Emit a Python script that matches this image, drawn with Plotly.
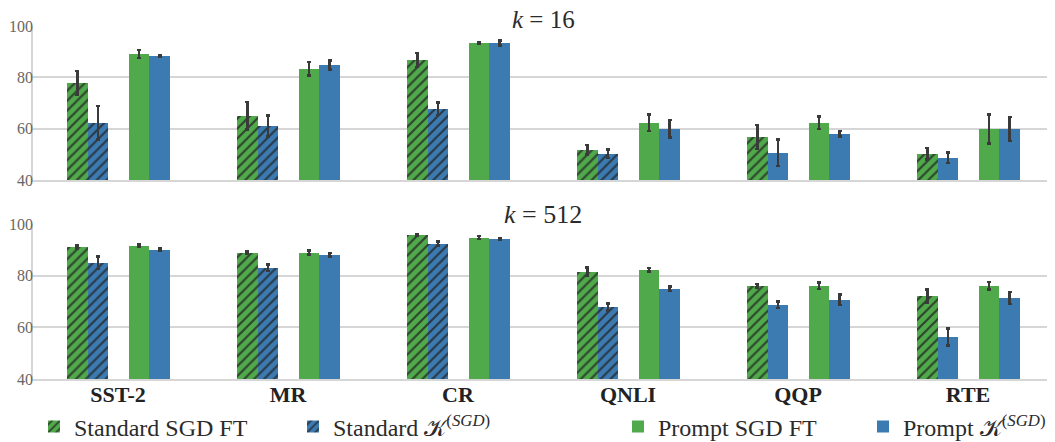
import plotly.graph_objects as go

categories = ["SST-2", "MR", "CR", "QNLI", "QQP", "RTE"]

# k = 16
std_sgd_16 = [77.8, 65.0, 86.8, 51.8, 56.8, 50.2]
std_sgd_16_err = [4.6, 5.3, 2.7, 1.9, 4.7, 2.2]
std_k_16 = [62.3, 61.1, 67.7, 50.2, 50.6, 48.7]
std_k_16_err = [6.5, 4.1, 2.4, 1.6, 5.1, 2.1]
prm_sgd_16 = [89.1, 83.3, 93.4, 62.3, 62.3, 59.9]
prm_sgd_16_err = [1.6, 2.6, 0.2, 3.2, 2.4, 5.6]
prm_k_16 = [88.3, 84.8, 93.4, 59.9, 58.0, 59.9]
prm_k_16_err = [0.4, 1.7, 1.0, 3.4, 1.0, 4.7]

# k = 512
std_sgd_512 = [91.1, 88.9, 95.9, 81.5, 76.1, 72.2]
std_sgd_512_err = [0.5, 0.4, 0.3, 1.7, 0.6, 2.5]
std_k_512 = [85.0, 83.1, 92.4, 67.9, 68.7, 56.3]
std_k_512_err = [2.4, 1.3, 0.8, 1.3, 1.3, 3.3]
prm_sgd_512 = [91.6, 88.9, 94.7, 82.3, 76.1, 76.1]
prm_sgd_512_err = [0.5, 0.8, 0.6, 0.6, 1.2, 1.4]
prm_k_512 = [90.1, 88.1, 94.3, 74.9, 70.7, 71.4]
prm_k_512_err = [0.5, 0.7, 0.3, 0.9, 2.0, 2.3]

# Standard K^(SGD) bars are hatched only for the first four datasets
std_k_hatch = ["/", "/", "/", "/", "", ""]

GREEN = "#50aa4b"
BLUE = "#3c7bb2"
ERR = "#3a3a3a"
GRID = "#d6d6d6"
SERIF = "Liberation Serif"

KSGD = "𝒦<sup>(<i>SGD</i>)</sup>"
names = ["Standard SGD FT", "Standard " + KSGD, "Prompt SGD FT", "Prompt " + KSGD]
colors = [GREEN, BLUE, GREEN, BLUE]
offsets = [-0.30, -0.178, 0.062, 0.184]
width = 0.122
legends = ["legend", "legend2", "legend3", "legend4"]

xs = list(range(len(categories)))

fig = go.Figure()

panels = [
    ([std_sgd_16, std_k_16, prm_sgd_16, prm_k_16],
     [std_sgd_16_err, std_k_16_err, prm_sgd_16_err, prm_k_16_err], "x", "y", True),
    ([std_sgd_512, std_k_512, prm_sgd_512, prm_k_512],
     [std_sgd_512_err, std_k_512_err, prm_sgd_512_err, prm_k_512_err], "x2", "y2", False),
]

for vals, errs, xa, ya, show in panels:
    for i in range(4):
        if i == 0:
            shape = "/"
        elif i == 1:
            shape = std_k_hatch
        else:
            shape = ""
        fig.add_trace(go.Bar(
            x=xs, y=vals[i],
            name=names[i],
            offset=offsets[i], width=width,
            marker=dict(
                color=colors[i], line=dict(width=0),
                pattern=dict(shape=shape, fillmode="replace", bgcolor=colors[i],
                             fgcolor="#222222", fgopacity=0.75, size=7, solidity=0.32),
            ),
            error_y=dict(type="data", array=errs[i], visible=True,
                         color=ERR, thickness=2.5, width=2),
            xaxis=xa, yaxis=ya,
            showlegend=show, legend=legends[i],
        ))

axis_common_y = dict(
    range=[40, 100], tickvals=[40, 60, 80, 100],
    showgrid=True, gridcolor=GRID, gridwidth=1.5,
    showline=True, linecolor=GRID, linewidth=1.5,
    zeroline=False, ticks="", ticklen=0, ticklabelstandoff=-5,
    tickfont=dict(family=SERIF, size=16, color="#666666"),
)
axis_common_x = dict(
    range=[-0.5, 5.5], showgrid=False, zeroline=False,
    showline=True, linecolor=GRID, linewidth=1.5,
    tickvals=xs, ticks="",
)

# the page body adds an 8px offset; positions below are given in page pixels
OFF = 8
W = 1055
H = 442
L = 33 - OFF
R = W - (1053 - OFF)


def px(xp):
    return (xp - OFF - L) / (W - L - R)


def py(yp):
    return 1 - (yp - OFF) / H


legend_common = dict(
    orientation="h", yanchor="middle", y=py(427), xanchor="left",
    font=dict(family=SERIF, size=24, color="#2b2b2b"),
    bgcolor="rgba(0,0,0,0)",
)

fig.update_layout(
    width=W, height=H,
    margin=dict(l=L, r=R, t=0, b=0, autoexpand=False),
    plot_bgcolor="white", paper_bgcolor="white",
    bargap=0, barmode="overlay",
    xaxis=dict(axis_common_x, domain=[0, 1], anchor="y", showticklabels=False),
    yaxis=dict(axis_common_y, domain=[py(180), py(26)], anchor="x"),
    xaxis2=dict(axis_common_x, domain=[0, 1], anchor="y2", showticklabels=True,
                ticklabelstandoff=-5,
                ticktext=["<b>" + c + "</b>" for c in categories],
                tickfont=dict(family=SERIF, size=22, color="#222222")),
    yaxis2=dict(axis_common_y, domain=[py(379), py(224)], anchor="x2"),
    legend=dict(legend_common, x=px(34)),
    legend2=dict(legend_common, x=px(293)),
    legend3=dict(legend_common, x=px(618)),
    legend4=dict(legend_common, x=px(863)),
    annotations=[
        dict(text="<i>k</i> = 16", x=px(543), y=py(19), xref="paper", yref="paper",
             showarrow=False, yanchor="middle",
             font=dict(family=SERIF, size=25, color="#2b2b2b")),
        dict(text="<i>k</i> = 512", x=px(543), y=py(214), xref="paper", yref="paper",
             showarrow=False, yanchor="middle",
             font=dict(family=SERIF, size=26, color="#2b2b2b")),
    ],
)

fig.write_html("out.html")
